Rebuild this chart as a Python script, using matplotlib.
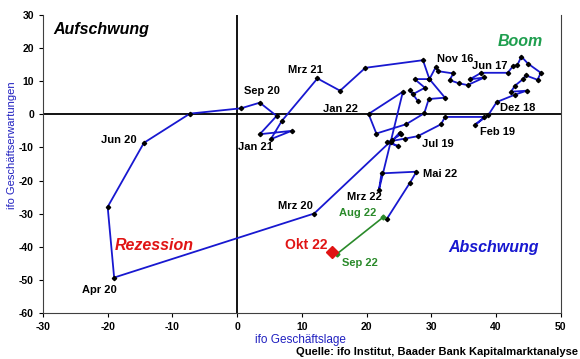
import matplotlib
matplotlib.use("Agg")
import matplotlib.pyplot as plt

plt.rcParams['font.family'] = ['Liberation Sans', 'DejaVu Sans']
plt.rcParams['axes.unicode_minus'] = False

# ifo Geschäftslage (x) and Geschäftserwartungen (y), monthly path
lage = [27.9, 26.7, 27.1, 29.0, 27.4, 29.7, 30.7, 31.0, 33.4, 32.8, 34.3, 35.6,
        38.2, 35.9, 37.7, 41.8, 42.6, 43.3, 43.9, 44.9, 46.9, 46.4, 44.6, 44.1,
        42.9, 42.3, 44.7, 42.9, 40.1, 38.8, 36.8, 38.2, 32.1, 31.5, 27.9, 26.0,
        23.1, 24.8, 23.7, 25.1, 25.3, 23.9, 11.9, -19.0, -20.0, -14.4, -7.3, 0.6,
        3.5, 6.1, 3.5, 8.4, 5.2, 6.9, 12.4, 15.9, 19.8, 28.7, 29.7, 32.1,
        29.6, 28.9, 26.1, 21.5, 20.3, 25.6, 21.9, 22.3, 27.7, 26.7, 23.1]
erwartungen = [4.0, 7.3, 6.0, 8.0, 10.6, 10.6, 14.3, 13.0, 12.3, 10.3, 9.3, 8.8,
               11.1, 10.5, 12.5, 12.5, 14.5, 14.9, 17.4, 15.3, 12.5, 10.4, 11.7, 10.5,
               8.6, 6.8, 7.1, 5.9, 3.7, -0.2, -3.1, -0.8, -0.8, -3.0, -6.6, -7.3,
               -8.3, -9.6, -8.5, -5.5, -6.0, -7.8, -29.9, -49.2, -27.9, -8.6, 0.2, 1.8,
               3.5, -0.5, -6.0, -5.0, -7.5, -2.0, 10.8, 7.1, 14.0, 16.3, 10.6, 5.0,
               4.6, 0.3, -3.0, -5.8, 0.1, 6.8, -22.8, -17.8, -17.3, -20.6, -31.6]

# point labels: index into the path -> text
label_idx = [6, 14, 28, 30, 34, 42, 43, 45, 48, 52, 54, 64, 66, 68]
label_txt = ["Nov 16", "Jun 17", "Dez 18", "Feb 19", "Jul 19", "Mrz 20", "Apr 20",
             "Jun 20", "Sep 20", "Jan 21", "Mrz 21", "Jan 22", "Mrz 22", "Mai 22"]

# latest months
recent_lage = [22.5, 15.4]
recent_erw = [-31.1, -42.1]
recent_txt = ["Aug 22", "Sep 22"]
okt_lage, okt_erw = 14.7, -41.6

BLUE = '#1818D0'
GREEN = '#2A8A2A'
RED = '#E01414'

fig = plt.figure(figsize=(5.8, 3.59), dpi=100)
ax = fig.add_axes([0.074, 0.127, 0.893, 0.832])

ax.axhline(0, color='black', lw=1.3, zorder=1)
ax.axvline(0, color='black', lw=1.3, zorder=1)

ax.plot(lage, erwartungen, color=BLUE, lw=1.3, zorder=2)
ax.plot(lage, erwartungen, ls='none', marker='D', ms=2.2, color='black', zorder=3)
ax.plot(recent_lage, recent_erw, color=GREEN, lw=1.2, marker='D', ms=2.5,
        mfc=GREEN, mec=GREEN, zorder=3)
ax.plot([okt_lage], [okt_erw], ls='none', marker='D', ms=6, color=RED, zorder=4)

# label offsets in pixels (dx, dy)
offsets = [(19, 8), (9, 7), (21, -6), (22, -7), (20, -8), (-19, 8), (-15, -12),
           (-25, 3), (2, 12), (-15, -8), (-12, 8), (-28, 5), (-14, -7), (24, -2)]
for i, txt, (dx, dy) in zip(label_idx, label_txt, offsets):
    ax.annotate(txt, (lage[i], erwartungen[i]), xytext=(dx * 0.72, dy * 0.72),
                textcoords='offset points', ha='center', va='center',
                fontsize=8, fontweight='bold', color='black')
for x, y, txt, (dx, dy) in zip(recent_lage, recent_erw, recent_txt, [(-25, 4), (23, -9)]):
    ax.annotate(txt, (x, y), xytext=(dx * 0.72, dy * 0.72), textcoords='offset points',
                ha='center', va='center', fontsize=8, fontweight='bold', color=GREEN)
ax.annotate("Okt 22", (okt_lage, okt_erw), xytext=(-26 * 0.72, 7 * 0.72),
            textcoords='offset points', ha='center', va='center',
            fontsize=10, fontweight='bold', color=RED)

# quadrant names
quad = dict(fontsize=11.5, fontweight='bold', style='italic', ha='center', va='center')
ax.text(0.113, 0.95, "Aufschwung", transform=ax.transAxes, color='black', **quad)
ax.text(0.922, 0.91, "Boom", transform=ax.transAxes, color='#1E9E4E', **quad)
ax.text(0.870, 0.222, "Abschwung", transform=ax.transAxes, color=BLUE, **quad)
ax.text(0.215, 0.226, "Rezession", transform=ax.transAxes, color=RED, **quad)

ax.set_xlim(-30, 50)
ax.set_ylim(-60, 30)
ax.set_xticks(range(-30, 51, 10))
ax.set_yticks(range(-60, 31, 10))
ax.tick_params(direction='out', length=3, width=0.8, labelsize=7.5, pad=3.5)
for lbl in ax.get_xticklabels() + ax.get_yticklabels():
    lbl.set_fontweight('bold')
ax.spines['top'].set_visible(False)
for s in ['left', 'bottom', 'right']:
    ax.spines[s].set_color('#404040')
    ax.spines[s].set_linewidth(0.8)
ax.tick_params(axis='y', right=False)

fig.text(300 / 580, 1 - 340 / 359, "ifo Geschäftslage", ha='center', va='center',
         fontsize=8.5, color='#2020C0')
fig.text(12 / 580, 1 - 145 / 359, "ifo Geschäftserwartungen", rotation=90,
         ha='center', va='center', fontsize=8, color='#2020C0')
fig.text(578 / 580, 1 - 352 / 359, "Quelle: ifo Institut, Baader Bank Kapitalmarktanalyse",
         ha='right', va='center', fontsize=8, fontweight='bold', color='black')

fig.savefig("out.png", dpi=100)
